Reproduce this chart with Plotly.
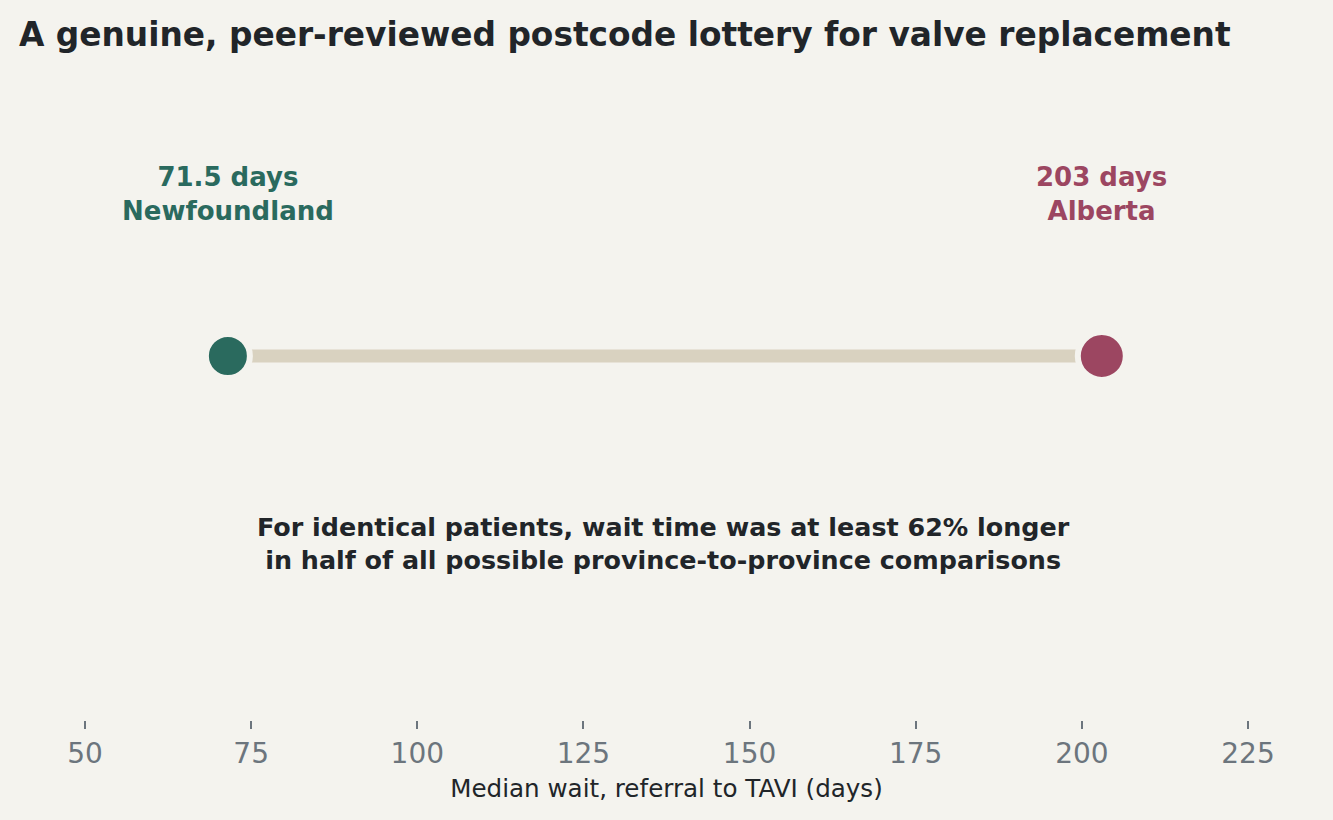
import plotly.graph_objects as go

# Daten: mediane Wartezeit (Tage) von Ueberweisung bis TAVI
provinces = ["Newfoundland", "Alberta"]
wait_days = [71.5, 203]
tick_vals = [50, 75, 100, 125, 150, 175, 200, 225]

title = "A genuine, peer-reviewed postcode lottery for valve replacement"
note = ("For identical patients, wait time was at least 62% longer<br>"
        "in half of all possible province-to-province comparisons")
x_title = "Median wait, referral to TAVI (days)"

bg = "#f4f3ee"
colors = ["#2a6a5e", "#9c4661"]
font = "DejaVu Sans"

fig = go.Figure()

# Verbindungslinie zwischen Minimum und Maximum
fig.add_trace(go.Scatter(
    x=wait_days, y=[0] * len(wait_days), mode="lines",
    line=dict(color="#d9d2c0", width=13), hoverinfo="skip",
))

# Punkte mit Rand in Hintergrundfarbe (erzeugt die Luecke zur Linie)
fig.add_trace(go.Scatter(
    x=wait_days, y=[0] * len(wait_days), mode="markers",
    marker=dict(size=[44, 48], color=colors, opacity=1,
                line=dict(color=bg, width=6)),
))

for p, v, c in zip(provinces, wait_days, colors):
    fig.add_annotation(
        x=v, y=0.809, xref="x", yref="paper",
        text=f"{v:g} days<br>{p}", showarrow=False,
        xanchor="center", yanchor="middle",
        font=dict(family=font, size=26, color=c, weight="bold"),
    )

fig.add_annotation(
    x=0.4975, y=0.272, xref="paper", yref="paper",
    text=note, showarrow=False, xanchor="center", yanchor="middle",
    font=dict(family=font, size=25.4, color="#212529", weight="bold"),
)

fig.update_layout(
    width=1333, height=820,
    paper_bgcolor=bg, plot_bgcolor=bg,
    margin=dict(l=0, r=0, t=70, b=100),
    showlegend=False,
    title=dict(
        text=title, xref="container", yref="container",
        x=19 / 1333, y=1 - 35 / 820, xanchor="left", yanchor="middle",
        font=dict(family=font, size=32.8, color="#212529", weight="bold"),
    ),
    xaxis=dict(
        range=[37.21, 237.79], tickvals=tick_vals,
        showgrid=False, zeroline=False, showline=False,
        ticks="outside", ticklen=8, tickwidth=2, tickcolor="#6c757d",
        tickfont=dict(family=font, size=28, color="#6c757d"),
        title=dict(text=x_title, standoff=11,
                   font=dict(family=font, size=24.6, color="#212529")),
    ),
    yaxis=dict(range=[-1, 0.7857], visible=False),
)

# Seitenrand des Browsers entfernen, Werkzeugleiste ausblenden
fig.write_html("out.html", config={"displayModeBar": False},
               post_script="document.body.style.margin='0';")
